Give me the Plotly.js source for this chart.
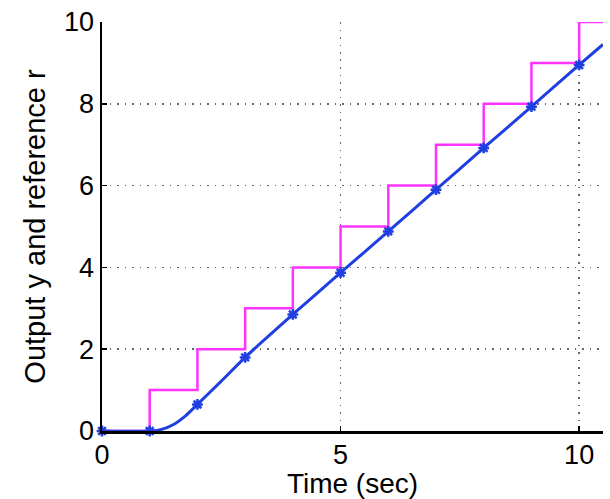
<!DOCTYPE html>
<html>
<head>
<meta charset="utf-8">
<script src="https://cdn.plot.ly/plotly-3.0.1.min.js"></script>
<style>html,body{margin:0;padding:0;background:#fff}#chart{width:610px;height:499px}</style>
</head>
<body>
<div id="chart"></div>
<script>
// Reference staircase r(t)
const refTime = [0, 1, 2, 3, 4, 5, 6, 7, 8, 9, 10, 10.5];
const refValue = [0, 1, 2, 3, 4, 5, 6, 7, 8, 9, 10, 10];

// Output y(t) (continuous curve)
const outTime = [0, 1, 1.25, 1.5, 1.75, 2, 2.5, 3, 4, 5, 6, 7, 8, 9, 10, 10.5];
const outValue = [0, 0, 0.04, 0.16, 0.37, 0.65, 1.22, 1.8, 2.85, 3.87, 4.88, 5.9, 6.92, 7.93, 8.95, 9.45];

// Sampled output markers
const sampleTime = [0, 1, 2, 3, 4, 5, 6, 7, 8, 9, 10];
const sampleValue = [0, 0, 0.65, 1.8, 2.85, 3.87, 4.88, 5.9, 6.92, 7.93, 8.95];

const xTicks = [0, 5, 10];
const yTicks = [0, 2, 4, 6, 8, 10];

const magenta = '#ff33ff';
const blue = '#1f3fe0';
const font = 'Liberation Sans, Arial, Helvetica, sans-serif';

const traces = [
  {x: refTime, y: refValue, type: 'scatter', mode: 'lines', line: {shape: 'hv', color: magenta, width: 2.5}, cliponaxis: false},
  {x: outTime, y: outValue, type: 'scatter', mode: 'lines', line: {shape: 'spline', smoothing: 0.6, color: blue, width: 3}, cliponaxis: false},
  {x: sampleTime, y: sampleValue, type: 'scatter', mode: 'markers', marker: {symbol: 'asterisk-open', size: 9, color: blue, line: {color: blue, width: 2.5}}, cliponaxis: false}
];

const layout = {
  width: 610, height: 499,
  margin: {l: 102, r: 7, t: 22, b: 68},
  paper_bgcolor: '#fff', plot_bgcolor: '#fff',
  showlegend: false,
  font: {family: font, color: '#000', size: 27},
  xaxis: {
    range: [0, 10.5], tickvals: xTicks, ticktext: xTicks.map(String),
    ticks: 'inside', ticklen: 5, tickwidth: 1.5, tickcolor: '#000',
    showline: true, linecolor: '#000', linewidth: 2.5, mirror: false,
    showgrid: true, gridcolor: '#666', griddash: '1.5px,6px', gridwidth: 1.5,
    zeroline: false, tickfont: {size: 27, family: font}, ticklabelstandoff: -2,
    title: {text: 'Time (sec)', font: {size: 28, family: font}, standoff: 4}
  },
  yaxis: {
    range: [0, 10], tickvals: yTicks, ticktext: yTicks.map(String),
    ticks: 'inside', ticklen: 5, tickwidth: 1.5, tickcolor: '#000',
    showline: true, linecolor: '#000', linewidth: 2.5, mirror: false,
    showgrid: true, gridcolor: '#666', griddash: '1.5px,6px', gridwidth: 1.5,
    zeroline: false, tickfont: {size: 27, family: font},
    title: {text: 'Output y and reference r', font: {size: 29, family: font}, standoff: 10}
  }
};

Plotly.newPlot('chart', traces, layout, {staticPlot: true, displayModeBar: false});
</script>
</body>
</html>
